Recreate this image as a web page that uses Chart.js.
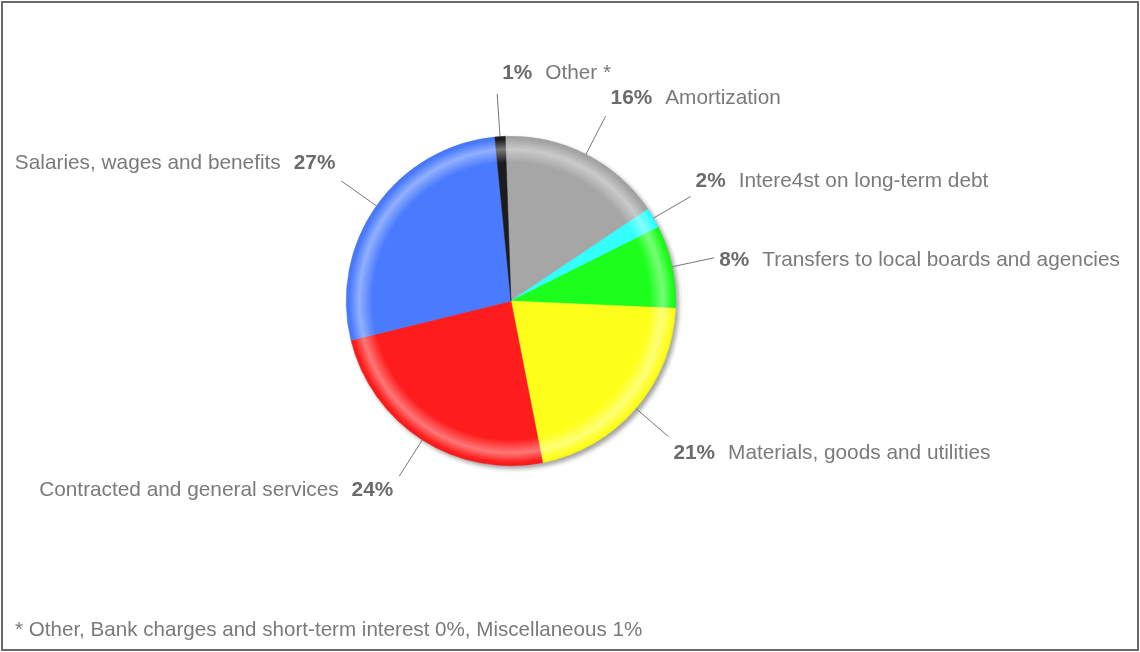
<!DOCTYPE html>
<html>
<head>
<meta charset="utf-8">
<script src="https://cdn.jsdelivr.net/npm/chart.js@4.4.1/dist/chart.umd.min.js"></script>
<style>
  html, body { margin: 0; padding: 0; background: #fff; }
  #wrap { position: relative; width: 1140px; height: 652px; }
  #frame {
    position: absolute; left: 1px; top: 1px; width: 1134px; height: 646px;
    border: 2px solid #6a6a6a; pointer-events: none;
  }
  #note {
    position: absolute; left: 15px; top: 617px;
    font: 20.6px "Liberation Sans", Arial, sans-serif; color: #7a7a7a;
    white-space: nowrap;
  }
</style>
</head>
<body>
<div id="wrap">
  <canvas id="pieChart" width="1140" height="652"></canvas>
  <div id="frame"></div>
  <div id="note">* Other, Bank charges and short-term interest 0%, Miscellaneous 1%</div>
</div>
<script>
// Operating expenses by type, clockwise from 12 o'clock
const categories = [
  "Amortization",
  "Intere4st on long-term debt",
  "Transfers to local boards and agencies",
  "Materials, goods and utilities",
  "Contracted and general services",
  "Salaries, wages and benefits",
  "Other *",
];
const shares = [16, 2, 8, 21, 24, 27, 1];
const sliceColors = ["#a6a6a6", "#33ffff", "#1cff1c", "#ffff1c", "#ff1c1c", "#4a7bff", "#1c1c1c"];
// vertical nudge of each label from the end of its leader line
const labelOffsetY = [-18, -15, 2, 17, 14, -18, -20];

const FONT = '"Liberation Sans", Arial, sans-serif';

function mix(hex, other, t) {
  const a = parseInt(hex.slice(1), 16), b = parseInt(other.slice(1), 16);
  const ch = (v, s) => (v >> s) & 255;
  const m = (s) => Math.round(ch(a, s) + (ch(b, s) - ch(a, s)) * t);
  return `rgb(${m(16)},${m(8)},${m(0)})`;
}

function pieGeometry(chart) {
  const a = chart.chartArea;
  return {
    cx: (a.left + a.right) / 2,
    cy: (a.top + a.bottom) / 2,
    r: Math.min(a.right - a.left, a.bottom - a.top) / 2,
  };
}

// lighter rim band near the edge of every slice
function rimGradient(context) {
  const chart = context.chart;
  const base = sliceColors[context.dataIndex];
  if (!chart.chartArea) return base;
  const { cx, cy, r } = pieGeometry(chart);
  const g = chart.ctx.createRadialGradient(cx, cy, 0, cx, cy, r);
  g.addColorStop(0, base);
  g.addColorStop(0.84, base);
  g.addColorStop(0.92, mix(base, "#ffffff", 0.4));
  g.addColorStop(0.98, base);
  g.addColorStop(1, mix(base, "#000000", 0.05));
  return g;
}

const pieShadow = {
  id: "pieShadow",
  beforeDatasetsDraw(chart) {
    const { cx, cy, r } = pieGeometry(chart);
    const ctx = chart.ctx;
    ctx.save();
    ctx.filter = "blur(2px)";
    ctx.fillStyle = "rgba(90,90,90,0.55)";
    ctx.beginPath();
    ctx.arc(cx + 3, cy + 3, r, 0, Math.PI * 2);
    ctx.fill();
    ctx.restore();
  },
};

const leaderLabels = {
  id: "leaderLabels",
  afterDatasetsDraw(chart) {
    const ctx = chart.ctx;
    const arcs = chart.getDatasetMeta(0).data;
    ctx.save();
    arcs.forEach((arc, i) => {
      const { x, y, startAngle, endAngle, outerRadius } = arc.getProps(
        ["x", "y", "startAngle", "endAngle", "outerRadius"], true);
      const mid = (startAngle + endAngle) / 2;
      const cos = Math.cos(mid), sin = Math.sin(mid);
      const x0 = x + cos * outerRadius, y0 = y + sin * outerRadius;
      const x1 = x + cos * (outerRadius + 43), y1 = y + sin * (outerRadius + 43);

      ctx.strokeStyle = "#777";
      ctx.lineWidth = 1;
      ctx.beginPath();
      ctx.moveTo(x0, y0);
      ctx.lineTo(x1, y1);
      ctx.stroke();

      const pct = shares[i] + "%";
      const name = categories[i];
      const ty = y1 + labelOffsetY[i];
      const bold = "bold 20.8px " + FONT;
      const normal = "20.8px " + FONT;
      const gap = 13;
      ctx.textBaseline = "middle";
      ctx.textAlign = "left";
      if (cos > -0.1) {
        let tx = x1 + 5;
        ctx.font = bold;
        ctx.fillStyle = "#6b6b6b";
        ctx.fillText(pct, tx, ty);
        tx += ctx.measureText(pct).width + gap;
        ctx.font = normal;
        ctx.fillStyle = "#7a7a7a";
        ctx.fillText(name, tx, ty);
      } else {
        ctx.font = bold;
        const pw = ctx.measureText(pct).width;
        ctx.font = normal;
        const nw = ctx.measureText(name).width;
        let tx = x1 - 6 - pw - gap - nw;
        ctx.fillStyle = "#7a7a7a";
        ctx.fillText(name, tx, ty);
        ctx.font = bold;
        ctx.fillStyle = "#6b6b6b";
        ctx.fillText(pct, tx + nw + gap, ty);
      }
    });
    ctx.restore();
  },
};

const pieCtx = document.getElementById("pieChart").getContext("2d");
new Chart(pieCtx, {
  type: "pie",
  data: {
    labels: categories,
    datasets: [
      {
        data: shares,
        backgroundColor: rimGradient,
        borderColor: rimGradient,
        borderWidth: 0.5,
      },
    ],
  },
  options: {
    responsive: false,
    animation: false,
    events: [],
    rotation: -2,
    layout: { padding: { left: 346, right: 464, top: 136, bottom: 186 } },
    plugins: {
      legend: { display: false },
      tooltip: { enabled: false },
    },
  },
  plugins: [pieShadow, leaderLabels],
});
</script>
</body>
</html>
